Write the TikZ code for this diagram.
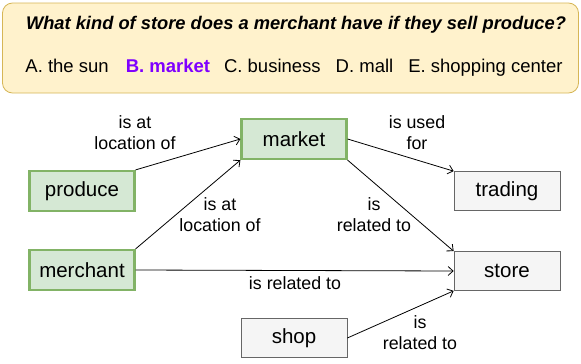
\documentclass[tikz,border=0pt]{standalone}
\usepackage{fontspec}
\setmainfont{Liberation Sans}
\usetikzlibrary{arrows.meta}
\definecolor{conceptfill}{HTML}{D5E8D4}
\definecolor{conceptline}{HTML}{82B366}
\definecolor{otherfill}{HTML}{F5F5F5}
\definecolor{otherline}{HTML}{666666}
\definecolor{qfill}{HTML}{FFF2CC}
\definecolor{qline}{HTML}{D6B656}
\definecolor{answer}{HTML}{7F00FF}
\tikzset{
  concept/.style={draw=conceptline,fill=conceptfill,line width=2.2pt,minimum width=105pt,minimum height=40pt,inner sep=0pt,font=\fontsize{20.5}{24}\selectfont},
  other/.style={draw=otherline,fill=otherfill,line width=0.7pt,minimum width=106pt,minimum height=39pt,inner sep=0pt,font=\fontsize{20.5}{24}\selectfont},
  rel/.style={align=center,inner sep=0pt,font=\fontsize{17.8}{21}\selectfont},
  link/.style={-{Straight Barb[length=5pt,width=9pt]},line width=0.8pt},
}
\begin{document}
\begin{tikzpicture}[x=1pt,y=-1pt]
\useasboundingbox (0,0) rectangle (581,364);

\node[draw=qline,fill=qfill,line width=0.8pt,rounded corners=10pt,minimum width=576pt,minimum height=90pt] (qbox) at (290.5,48) {};
\node[font=\fontsize{18.3}{22}\selectfont\bfseries\itshape] (question) at (296,25) {What kind of store does a merchant have if they sell produce?};
\node[font=\fontsize{18.5}{22}\selectfont] (choices) at (294,68) {A. the sun\hspace{17pt}{\color{answer}\bfseries B. market}\hspace{14pt}C. business\hspace{15pt}D. mall\hspace{15pt}E. shopping center};

\node[concept] (market) at (294,139) {market};
\node[concept] (produce) at (82,191) {produce};
\node[concept] (merchant) at (82,270) {merchant};
\node[other] (trading) at (507,191) {trading};
\node[other] (store) at (507,271) {store};
\node[other] (shop) at (294,338) {shop};

\path [link] (produce.north east) edge (market.west);
\path [link] (merchant.north east) edge (market.south west);
\path [link] (market.east) edge (trading.north west);
\path [link] (market.south east) edge (store.north west);
\path [link] (merchant.east) edge (store.west);
\path [link] (shop.east) edge (store.south west);
%%%%%%%%
\node[rel] (l1) at (135,133) {is at\\location of};
\node[rel] (l2) at (220,215) {is at\\location of};
\node[rel] (l3) at (417,133) {is used\\for};
\node[rel] (l4) at (374,215) {is\\related to};
\node[rel] (l5) at (295,283) {is related to};
\node[rel] (l6) at (420,333) {is\\related to};

\end{tikzpicture}
\end{document}
